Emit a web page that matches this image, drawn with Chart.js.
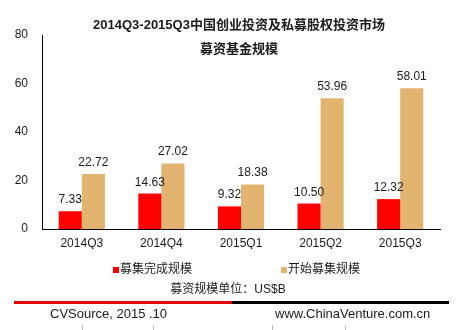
<!DOCTYPE html>
<html>
<head>
<meta charset="utf-8">
<script src="https://cdn.jsdelivr.net/npm/chart.js@4/dist/chart.umd.min.js"></script>
<style>
  html, body { margin: 0; padding: 0; background: #fff; }
  #wrap { position: relative; width: 465px; height: 330px; }
</style>
</head>
<body>
<div id="wrap"><canvas id="fundChart" width="465" height="330"></canvas></div>
<script>
  const categories = ['2014Q3', '2014Q4', '2015Q1', '2015Q2', '2015Q3'];
  const seriesNames = ['募集完成规模', '开始募集规模'];
  const completedValues = [7.33, 14.63, 9.32, 10.50, 12.32];
  const startedValues = [22.72, 27.02, 18.38, 53.96, 58.01];
  const yTicks = [0, 20, 40, 60, 80];
  const titleLines = ['2014Q3-2015Q3中国创业投资及私募股权投资市场', '募资基金规模'];
  const unitText = '募资规模单位：US$B';
  const sourceText = 'CVSource, 2015 .10';
  const siteText = 'www.ChinaVenture.com.cn';

  const FONT = '"Liberation Sans", Arial, "Noto Sans CJK SC", sans-serif';
  const TXT = '#1a1a1a';
  const RED = '#ff0000';
  const TAN = '#e2b470';

  // --- value labels above bars ---
  const valueLabels = {
    id: 'valueLabels',
    afterDatasetsDraw(chart) {
      const ctx = chart.ctx;
      ctx.save();
      ctx.font = '12px ' + FONT;
      ctx.fillStyle = TXT;
      ctx.textAlign = 'center';
      ctx.textBaseline = 'alphabetic';
      chart.data.datasets.forEach((ds, di) => {
        chart.getDatasetMeta(di).data.forEach((bar, i) => {
          ctx.fillText(ds.data[i].toFixed(2), bar.x, bar.y - 8);
        });
      });
      ctx.restore();
    }
  };

  // --- title, legend, unit and footer ---
  const decorations = {
    id: 'decorations',
    afterDraw(chart) {
      const ctx = chart.ctx;
      ctx.save();
      ctx.fillStyle = TXT;
      ctx.textBaseline = 'middle';
      ctx.textAlign = 'center';
      ctx.font = 'bold 13px ' + FONT;
      ctx.fillText(titleLines[0], 239, 25, 298);
      ctx.fillText(titleLines[1], 239, 49);

      // legend
      ctx.textAlign = 'left';
      ctx.font = '12px ' + FONT;
      const legendX = [113, 281];
      chart.data.datasets.forEach((ds, i) => {
        ctx.fillStyle = ds.backgroundColor;
        ctx.fillRect(legendX[i], 267, 6, 6);
        ctx.fillStyle = TXT;
        ctx.fillText(ds.label, legendX[i] + 7, 270);
      });

      ctx.textAlign = 'center';
      ctx.font = '12px ' + FONT;
      ctx.fillText(unitText, 228, 290);

      // divider line
      ctx.fillStyle = '#e00000';
      ctx.fillRect(14, 301, 218, 3);
      ctx.fillStyle = '#000';
      ctx.fillRect(232, 301, 217, 3);

      ctx.fillStyle = TXT;
      ctx.font = '13px ' + FONT;
      ctx.textAlign = 'left';
      ctx.fillText(sourceText, 50, 314);
      ctx.fillText(siteText, 275, 314);

      // faint marks at the bottom edge
      ctx.strokeStyle = '#bbb';
      ctx.lineWidth = 1;
      [82, 153, 272, 345].forEach(x => {
        ctx.beginPath();
        ctx.moveTo(x + 0.5, 325);
        ctx.lineTo(x + 0.5, 330);
        ctx.stroke();
      });
      ctx.restore();
    }
  };

  new Chart(document.getElementById('fundChart').getContext('2d'), {
    type: 'bar',
    data: {
      labels: categories,
      datasets: [
        { label: seriesNames[0], data: completedValues, backgroundColor: RED },
        { label: seriesNames[1], data: startedValues, backgroundColor: TAN }
      ]
    },
    options: {
      responsive: false,
      animation: false,
      devicePixelRatio: 1,
      categoryPercentage: 0.58,
      barPercentage: 1,
      layout: { padding: { top: 35, right: 25, bottom: 81, left: 0 } },
      scales: {
        x: {
          grid: { display: false, drawTicks: false },
          border: { color: '#000', width: 1 },
          ticks: { color: TXT, font: { family: FONT, size: 12 }, padding: 7 },
          afterFit: s => { s.height = 20; }
        },
        y: {
          min: 0,
          max: 80,
          grid: { display: false, drawTicks: false },
          border: { color: '#000', width: 1 },
          afterBuildTicks: s => { s.ticks = yTicks.map(v => ({ value: v })); },
          ticks: { color: TXT, font: { family: FONT, size: 12 }, padding: 14 },
          afterFit: s => { s.width = 42; }
        }
      },
      plugins: {
        legend: { display: false },
        title: { display: false },
        tooltip: { enabled: false }
      }
    },
    plugins: [valueLabels, decorations]
  });
</script>
</body>
</html>
